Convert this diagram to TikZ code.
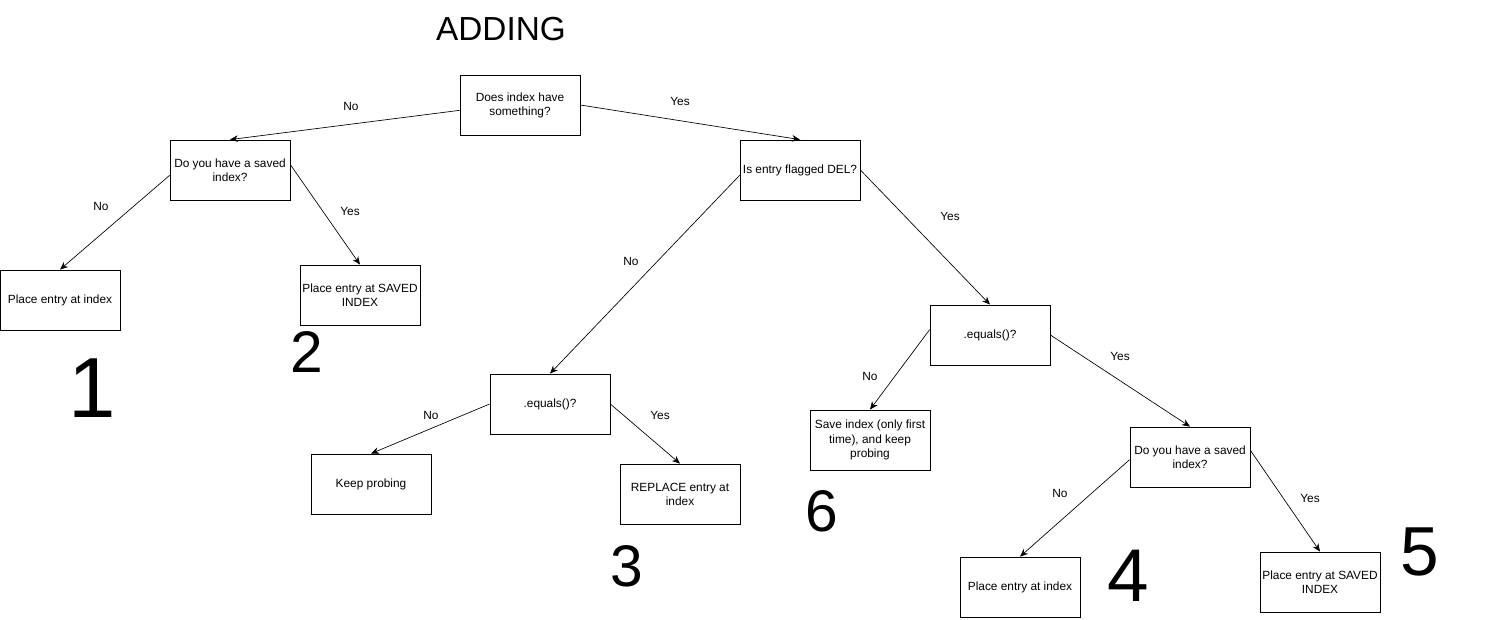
\documentclass[tikz,border=0pt]{standalone}
\usepackage{fontspec}
\setmainfont{Liberation Sans}
\usetikzlibrary{arrows.meta}
\begin{document}
\begin{tikzpicture}[x=0.75pt,y=-0.75pt,
  box/.style={draw,line width=0.6pt,minimum width=90pt,minimum height=45pt,align=center,inner sep=0.5pt,font=\fontsize{8.9}{10.6}\selectfont},
  lbl/.style={font=\fontsize{8.9}{10.6}\selectfont},
  arr/.style={-{Stealth[length=6pt,width=5pt]},line width=0.5pt},
  digit/.style={font=\fontsize{#1}{#1}\selectfont}]
\useasboundingbox (0,0) rectangle (1491,619);
\node[font=\fontsize{25}{30}\selectfont] (title) at (501,29) {ADDING};
\node[box] (q1) at (520,105) {Does index have\\something?};
\node[box] (l1) at (230,170) {Do you have a saved\\index?};
\node[box] (r1) at (800,170) {Is entry flagged DEL?};
\node[box] (a1) at (60,300) {Place entry at index};
\node[box] (b1) at (360,295) {Place entry at SAVED\\INDEX};
\node[box] (e1) at (550,404) {.equals()?};
\node[box] (kp) at (371,484) {Keep probing};
\node[box] (rp) at (680,494) {REPLACE entry at\\index};
\node[box] (e2) at (990,335) {.equals()?};
\node[box] (sv) at (870,440) {Save index (only first\\time), and keep\\probing};
\node[box] (d2) at (1190,457) {Do you have a saved\\index?};
\node[box] (p4) at (1020,587) {Place entry at index};
\node[box] (p5) at (1320,582) {Place entry at SAVED\\INDEX};
\draw[arr] ([yshift=-4pt]q1.west) -- (l1.north);
\draw[arr] (q1.east) -- (r1.north);
\draw[arr] ([yshift=-4pt]l1.west) -- (a1.north);
\draw[arr] ([yshift=4pt]l1.east) -- (b1.north);
\draw[arr] ([yshift=-4pt]r1.west) -- (e1.north);
\draw[arr] (r1.east) -- (e2.north);
\draw[arr] (e1.west) -- (kp.north);
\draw[arr] (e1.east) -- (rp.north);
\draw[arr] ([yshift=4pt]e2.west) -- (sv.north);
\draw[arr] (e2.east) -- (d2.north);
\draw[arr] ([yshift=-2pt]d2.west) -- (p4.north);
\draw[arr] ([yshift=5pt]d2.east) -- (p5.north);
\node[lbl] (n1) at (351,106) {No};
\node[lbl] (y1) at (680,101) {Yes};
\node[lbl] (n2) at (101,206) {No};
\node[lbl] (y2) at (350,211) {Yes};
\node[lbl] (n3) at (631,261) {No};
\node[lbl] (y3) at (950,216) {Yes};
\node[lbl] (n4) at (431,415) {No};
\node[lbl] (y4) at (660,415) {Yes};
\node[lbl] (n5) at (870,376) {No};
\node[lbl] (y5) at (1120,356) {Yes};
\node[lbl] (n6) at (1060,493) {No};
\node[lbl] (y6) at (1310,498) {Yes};
\node[digit=64] (d1) at (92,388) {1};
\node[digit=44] (dd2) at (307,352) {2};
\node[digit=44] (d3) at (627,566) {3};
\node[digit=44] (d6) at (822,511) {6};
\node[digit=56] (d4) at (1128,576) {4};
\node[digit=52] (d5) at (1420,552) {5};
\end{tikzpicture}
\end{document}
